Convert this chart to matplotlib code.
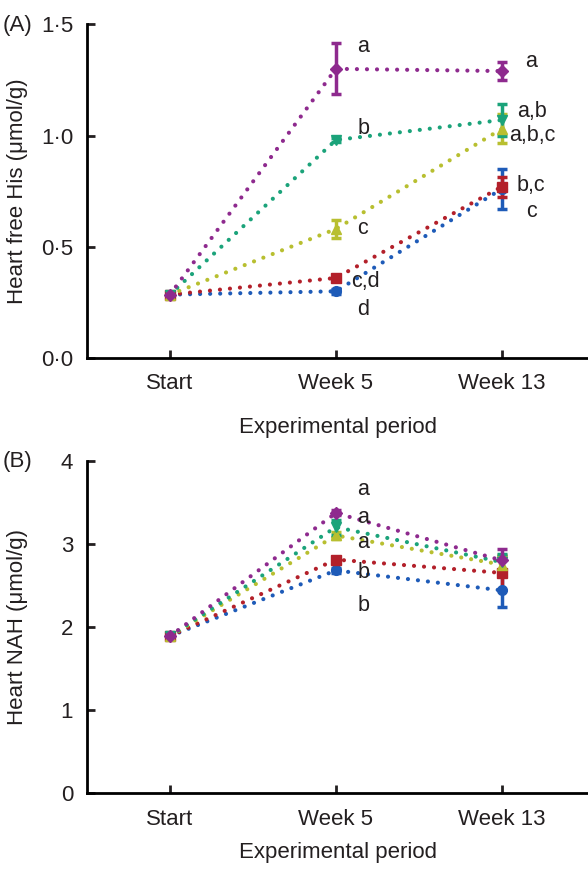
import numpy as np
import matplotlib
matplotlib.use("Agg")
import matplotlib.pyplot as plt

plt.rcParams['font.family'] = ['Liberation Sans', 'DejaVu Sans']

periods = ["Start", "Week 5", "Week 13"]
groups = ["blue", "red", "yellow", "green", "purple"]
colors = ["#1E5BB8", "#B3202A", "#B8BF30", "#1BA37A", "#8E2A8E"]
markers = ["o", "s", "^", "v", "D"]

# panel A: heart free His (umol/g)
his_mean = {
    "blue":   [0.285, 0.30, 0.76],
    "red":    [0.285, 0.36, 0.77],
    "yellow": [0.285, 0.58, 1.03],
    "green":  [0.285, 0.98, 1.07],
    "purple": [0.285, 1.30, 1.29],
}
his_err = {
    "blue":   [0.01, 0.01, 0.09],
    "red":    [0.01, 0.01, 0.045],
    "yellow": [0.01, 0.04, 0.065],
    "green":  [0.01, 0.01, 0.07],
    "purple": [0.01, 0.115, 0.04],
}
his_letters = [
    # (period index, y, text, x offset)
    (1, 1.40, "a", 0.13), (1, 1.033, "b", 0.13), (1, 0.584, "c", 0.13),
    (1, 0.346, "c,d", 0.09), (1, 0.22, "d", 0.13),
    (2, 1.334, "a", 0.14), (2, 1.106, "a,b", 0.09), (2, 1.001, "a,b,c", 0.045),
    (2, 0.777, "b,c", 0.09), (2, 0.657, "c", 0.15),
]

# panel B: heart NAH (umol/g)
nah_mean = {
    "blue":   [1.89, 2.68, 2.44],
    "red":    [1.89, 2.81, 2.65],
    "yellow": [1.89, 3.10, 2.75],
    "green":  [1.89, 3.20, 2.78],
    "purple": [1.89, 3.37, 2.80],
}
nah_err = {
    "blue":   [0.02, 0.03, 0.2],
    "red":    [0.02, 0.03, 0.2],
    "yellow": [0.02, 0.04, 0.12],
    "green":  [0.02, 0.09, 0.1],
    "purple": [0.02, 0.03, 0.14],
}
nah_letters = [
    (1, 3.65, "a", 0.13), (1, 3.32, "a", 0.13), (1, 3.02, "a", 0.13),
    (1, 2.66, "b", 0.13), (1, 2.26, "b", 0.13),
]

FS = 16
TXT = '#231F20'


def draw_panel(ax, means, errs, letters, ylim, yticks, yticklabels, ylabel, xpad):
    x = np.arange(len(periods))
    for g, c, m in zip(groups, colors, markers):
        ax.plot(x, means[g], color=c, lw=3, linestyle=(0, (0.01, 2.4)),
                dash_capstyle='round', zorder=2)
        ax.errorbar(x, means[g], yerr=errs[g], fmt=m, color=c, ms=7 if m != "D" else 6,
                    elinewidth=2.5, capsize=3.8, capthick=2.5, zorder=3)
    for i, y, t, dx in letters:
        ax.text(i + dx, y, t, fontsize=FS - 0.5, color=TXT, va='center', ha='left')
    ax.set_xlim(-0.5, 2.52)
    ax.set_ylim(*ylim)
    ax.set_xticks(x)
    ax.set_xticklabels(periods)
    ax.set_yticks(yticks)
    ax.set_yticklabels(yticklabels)
    ax.set_ylabel(ylabel, fontsize=FS, color=TXT)
    ax.yaxis.set_label_coords(-0.117, 0.5)
    ax.set_xlabel("Experimental period", fontsize=FS, labelpad=xpad, color=TXT)
    for s in ['top', 'right']:
        ax.spines[s].set_visible(False)
    for s in ['left', 'bottom']:
        ax.spines[s].set_linewidth(2)
    ax.tick_params(direction='in', length=6, width=2, labelsize=FS, colors=TXT)
    ax.tick_params(axis='y', pad=10)
    ax.tick_params(axis='x', pad=11)


fig = plt.figure(figsize=(5.88, 8.69), dpi=100)
ax1 = fig.add_axes([0.148, 0.588, 0.852, 0.384])
ax2 = fig.add_axes([0.148, 0.087, 0.852, 0.383])

draw_panel(ax1, his_mean, his_err, his_letters, (0, 1.5), [0, 0.5, 1.0, 1.5],
           ["0·0", "0·5", "1·0", "1·5"], "Heart free His (μmol/g)", 16)
draw_panel(ax2, nah_mean, nah_err, nah_letters, (0, 4), [0, 1, 2, 3, 4],
           ["0", "1", "2", "3", "4"], "Heart NAH (μmol/g)", 9)

fig.text(0.005, 1 - 25 / 869, "(A)", fontsize=FS, va='center', ha='left', color=TXT)
fig.text(0.005, 1 - 462 / 869, "(B)", fontsize=FS, va='center', ha='left', color=TXT)

fig.savefig("out.png", dpi=100)
